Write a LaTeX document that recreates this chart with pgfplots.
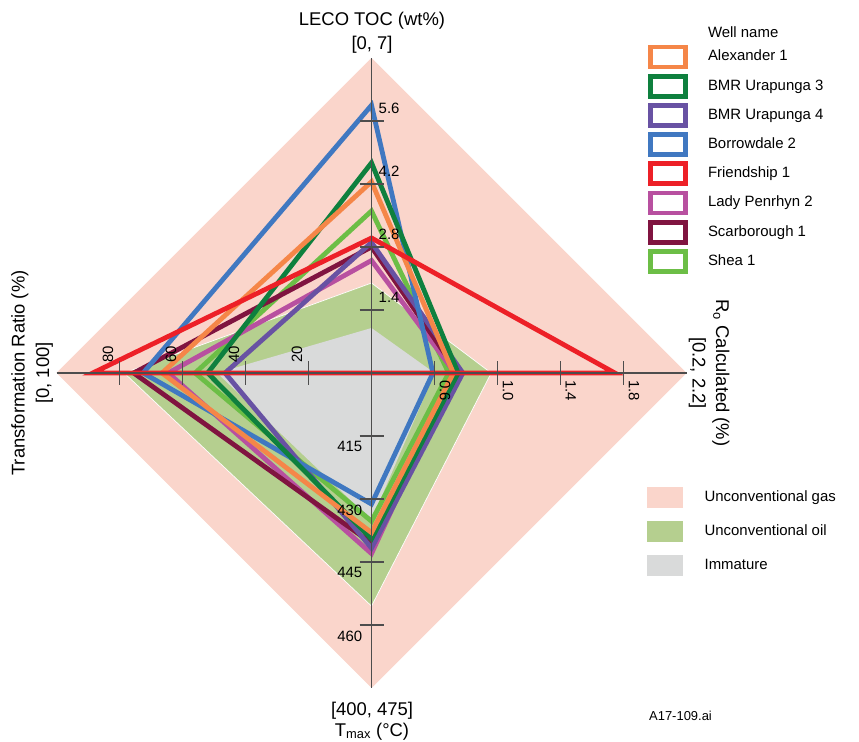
\documentclass[border=0pt]{standalone}
\usepackage{fontspec}
\setmainfont{Liberation Sans}
\usepackage{pgfplots}
\usepackage{pgfplotstable}
\pgfplotsset{compat=1.18}

% well colours
\definecolor{cAlex}{RGB}{245,134,72}
\definecolor{cUraA}{RGB}{14,128,62}
\definecolor{cUraB}{RGB}{104,82,163}
\definecolor{cBorr}{RGB}{64,120,193}
\definecolor{cFriend}{RGB}{237,32,39}
\definecolor{cLady}{RGB}{184,80,160}
\definecolor{cScar}{RGB}{128,20,64}
\definecolor{cShea}{RGB}{108,190,70}
% maturity zones
\definecolor{zGas}{RGB}{250,213,203}
\definecolor{zOil}{RGB}{181,207,143}
\definecolor{zImm}{RGB}{217,218,218}
\definecolor{spokecol}{RGB}{77,77,77}

% Spokes: 0 = LECO TOC [0,7] (up), 1 = Ro [0.2,2.2] (right),
%         2 = Tmax [400,475] (down), 3 = Transformation ratio [0,100] (left)
\pgfplotsset{
  table/radar/.style={
    x expr={\thisrow{spoke}==1 ? (\thisrow{val}-0.2)/2 : (\thisrow{spoke}==3 ? -\thisrow{val}/100 : 0)},
    y expr={\thisrow{spoke}==0 ? \thisrow{val}/7 : (\thisrow{spoke}==2 ? (400-\thisrow{val})/75 : 0)},
  },
  radarframe/.style={
    scale only axis, width=630bp, height=630bp,
    xmin=-1, xmax=1, ymin=-1, ymax=1,
    hide axis, clip=false,
    at={(371.5bp,369bp)}, anchor=center,
  },
  well/.style={forget plot, draw=#1, line width=4.8bp, line join=miter},
  well legend/.style={legend image code/.code={\draw[draw=#1, line width=4.8bp, line join=miter] (0bp,-10bp) rectangle (35bp,10bp);}},
  zone legend/.style={legend image code/.code={\fill[#1] (0bp,-10bp) rectangle (35bp,10bp);}},
}
\tikzset{
  lab/.style={font=\fontsize{15}{18}\selectfont, inner sep=0pt},
  ttl/.style={font=\fontsize{18.5}{22}\selectfont, inner sep=0pt},
  tickline/.style={draw=spokecol, line width=1.2bp},
  spokeline/.style={draw=spokecol, line width=1.2bp},
}

% maturity zones
\pgfplotstableread{
spoke val
0 7
1 2.2
2 475
3 100
}\zoneGas
\pgfplotstableread{
spoke val
0 2.0
1 0.96
2 455.5
3 78.5
}\zoneOil
\pgfplotstableread{
spoke val
0 1.0
1 0.6
2 435
3 49
}\zoneImm

% wells
\pgfplotstableread{
spoke val
0 4.25
1 0.72
2 438
3 66.5
}\alexander
\pgfplotstableread{
spoke val
0 4.67
1 0.75
2 439.5
3 52
}\urapungaA
\pgfplotstableread{
spoke val
0 2.9
1 0.78
2 441.7
3 46.5
}\urapungaB
\pgfplotstableread{
spoke val
0 5.95
1 0.59
2 431.2
3 72.5
}\borrowdale
\pgfplotstableread{
spoke val
0 3.0
1 1.745
2 400
3 88.5
}\friendship
\pgfplotstableread{
spoke val
0 2.5
1 0.73
2 443
3 64.5
}\ladypenrhyn
\pgfplotstableread{
spoke val
0 2.8
1 0.75
2 440.5
3 75.5
}\scarborough
\pgfplotstableread{
spoke val
0 3.6
1 0.69
2 435.3
3 56
}\shea

\begin{document}
\begin{tikzpicture}
\useasboundingbox (0,0) rectangle (859bp,742bp);

% zones and their legend
\begin{axis}[radarframe,
  legend style={at={(0.9373,0.319)}, anchor=north west, draw=none, fill=none,
    inner sep=0pt, row sep=13.5bp, column sep=22bp,
    font=\fontsize{15}{18}\selectfont,
    nodes={inner sep=0pt, text height=11bp, text depth=3bp}},
  legend cell align=left]
  \addplot[forget plot, fill=zGas, draw=none] table[radar] {\zoneGas} --cycle;
  \addplot[forget plot, fill=zOil, draw=white, line width=0.7bp] table[radar] {\zoneOil} --cycle;
  \addplot[forget plot, fill=zImm, draw=none] table[radar] {\zoneImm} --cycle;
  \addlegendimage{zone legend=zGas}\addlegendentry{Unconventional gas}
  \addlegendimage{zone legend=zOil}\addlegendentry{Unconventional oil}
  \addlegendimage{zone legend=zImm}\addlegendentry{Immature}
\end{axis}

% wells, spokes and scales
\begin{axis}[radarframe,
  legend style={at={(0.9389,1.0508)}, anchor=north west, draw=none, fill=none,
    inner sep=0pt, row sep=4.4bp, column sep=20bp,
    font=\fontsize{15}{18}\selectfont,
    nodes={inner sep=0pt, text height=11bp, text depth=3bp}},
  legend cell align=left]
  \addplot[well=cShea]   table[radar] {\shea} --cycle;
  \addplot[well=cLady]   table[radar] {\ladypenrhyn} --cycle;
  \addplot[well=cScar]   table[radar] {\scarborough} --cycle;
  \addplot[well=cUraB]   table[radar] {\urapungaB} --cycle;
  \addplot[well=cBorr]   table[radar] {\borrowdale} --cycle;
  \addplot[well=cUraA]   table[radar] {\urapungaA} --cycle;
  \addplot[well=cAlex]   table[radar] {\alexander} --cycle;
  \addplot[well=cFriend] table[radar] {\friendship} --cycle;

  % spokes
  \draw[spokeline] (axis cs:0,-1) -- (axis cs:0,1);
  \draw[spokeline] (axis cs:-1,0) -- (axis cs:1,0);
  % tick marks
  \pgfplotsinvokeforeach{0.2,0.4,0.6,0.8}{
    \draw[tickline] (axis cs:-0.0381,#1) -- (axis cs:0.0381,#1);
    \draw[tickline] (axis cs:-0.0381,-#1) -- (axis cs:0.0381,-#1);
    \draw[tickline] (axis cs:#1,-0.0381) -- (axis cs:#1,0.0381);
    \draw[tickline] (axis cs:-#1,-0.0381) -- (axis cs:-#1,0.0381);
  }
  % LECO TOC scale
  \node[lab, anchor=south west] at (axis cs:0.0222,0.2238) {1.4};
  \node[lab, anchor=south west] at (axis cs:0.0222,0.4238) {2.8};
  \node[lab, anchor=south west] at (axis cs:0.0222,0.6238) {4.2};
  \node[lab, anchor=south west] at (axis cs:0.0222,0.8238) {5.6};
  % Ro scale
  \node[lab, rotate=-90, anchor=south west] at (axis cs:0.2159,-0.0222) {0.6};
  \node[lab, rotate=-90, anchor=south west] at (axis cs:0.4159,-0.0222) {1.0};
  \node[lab, rotate=-90, anchor=south west] at (axis cs:0.6159,-0.0222) {1.4};
  \node[lab, rotate=-90, anchor=south west] at (axis cs:0.8159,-0.0222) {1.8};
  % Tmax scale
  \node[lab, anchor=north east] at (axis cs:-0.0286,-0.2175) {415};
  \node[lab, anchor=north east] at (axis cs:-0.0286,-0.4175) {430};
  \node[lab, anchor=north east] at (axis cs:-0.0286,-0.6175) {445};
  \node[lab, anchor=north east] at (axis cs:-0.0286,-0.8175) {460};
  % Transformation ratio scale
  \node[lab, rotate=90, anchor=south west] at (axis cs:-0.219,0.0317) {20};
  \node[lab, rotate=90, anchor=south west] at (axis cs:-0.419,0.0317) {40};
  \node[lab, rotate=90, anchor=south west] at (axis cs:-0.619,0.0317) {60};
  \node[lab, rotate=90, anchor=south west] at (axis cs:-0.819,0.0317) {80};

  \addlegendimage{empty legend}\addlegendentry{Well name}
  \addlegendimage{well legend=cAlex}\addlegendentry{Alexander 1}
  \addlegendimage{well legend=cUraA}\addlegendentry{BMR Urapunga 3}
  \addlegendimage{well legend=cUraB}\addlegendentry{BMR Urapunga 4}
  \addlegendimage{well legend=cBorr}\addlegendentry{Borrowdale 2}
  \addlegendimage{well legend=cFriend}\addlegendentry{Friendship 1}
  \addlegendimage{well legend=cLady}\addlegendentry{Lady Penrhyn 2}
  \addlegendimage{well legend=cScar}\addlegendentry{Scarborough 1}
  \addlegendimage{well legend=cShea}\addlegendentry{Shea 1}
\end{axis}

% spoke titles
\node[ttl, anchor=base] at (372bp,716.5bp) {LECO TOC (wt\%)};
\node[ttl, anchor=base] at (372bp,692.5bp) {[0, 7]};
\node[ttl, anchor=base] at (372bp,27bp) {[400, 475]};
\node[ttl, anchor=base] at (372bp,6bp) {T\textsubscript{max} (°C)};
\node[ttl, anchor=base, rotate=-90] at (716bp,369bp) {R\textsubscript{o} Calculated (\%)};
\node[ttl, anchor=base, rotate=-90] at (692.5bp,369bp) {[0.2, 2.2]};
\node[ttl, anchor=base, rotate=90] at (24.5bp,369bp) {Transformation Ratio (\%)};
\node[ttl, anchor=base, rotate=90] at (49bp,369bp) {[0, 100]};
\node[font=\fontsize{13}{15}\selectfont, inner sep=0pt, anchor=base west] at (649bp,22bp) {A17-109.ai};
\end{tikzpicture}
\end{document}
